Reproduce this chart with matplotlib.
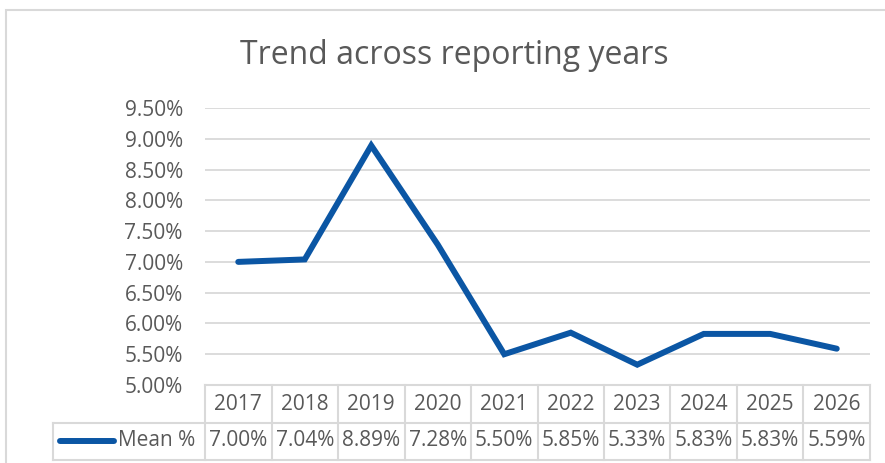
import matplotlib.pyplot as plt
import matplotlib.transforms as mtransforms
from matplotlib.patches import Rectangle

years = ['2017', '2018', '2019', '2020', '2021', '2022', '2023', '2024', '2025', '2026']
mean_pct = [7.00, 7.04, 8.89, 7.28, 5.50, 5.85, 5.33, 5.83, 5.83, 5.59]
series_name = 'Mean %'
title = 'Trend across reporting years'

W, H = 885, 463
blue = '#0B56A4'
grey_txt = '#595959'
grid_c = '#D9D9D9'

plt.rcParams['font.family'] = ['Open Sans', 'DejaVu Sans']

fig = plt.figure(figsize=(W / 100, H / 100), dpi=100)
# plot area in pixels: x 205..870, y 108..385
ax = fig.add_axes([205 / W, 1 - 385 / H, 665 / W, 277 / H])

x = list(range(len(years)))
ax.plot(x, mean_pct, color=blue, lw=4.3, solid_joinstyle='miter', solid_capstyle='round', zorder=3)
ax.set_xlim(-0.5, len(years) - 0.5)
ax.set_ylim(5.0, 9.5)
yt = [5.0 + 0.5 * i for i in range(10)]
ax.set_yticks(yt)
ax.set_yticklabels(['%.2f%%' % v for v in yt], color=grey_txt, fontsize=15)
ax.set_xticks([])
ax.tick_params(axis='y', length=0, pad=16)
for s in ax.spines.values():
    s.set_visible(False)
for v in yt:
    ax.axhline(v, color=grid_c, lw=1.3, zorder=1)

# data table below the plot
trans = mtransforms.blended_transform_factory(ax.transData, ax.transAxes)
ph = 277.0
def ay(py):
    return -(py - 385) / ph
def dx(px):
    return (px - 205) / 66.5 - 0.5

y_top, y_mid, y_bot = ay(385), ay(423), ay(460)
lx = dx(53)
kw = dict(color=grid_c, lw=1.5, transform=trans, clip_on=False)
ax.plot([-0.5, 9.5], [y_top, y_top], **kw)
ax.plot([lx, 9.5], [y_mid, y_mid], **kw)
ax.plot([lx, 9.5], [y_bot, y_bot], **kw)
ax.plot([lx, lx], [y_mid, y_bot], **kw)
for i in range(len(years) + 1):
    ax.plot([i - 0.5, i - 0.5], [y_top, y_bot], **kw)

for i, (yr, v) in enumerate(zip(years, mean_pct)):
    ax.text(i, ay(404), yr, transform=trans, ha='center', va='center', fontsize=15, color=grey_txt)
    ax.text(i, ay(441), '%.2f%%' % v, transform=trans, ha='center', va='center', fontsize=15, color=grey_txt)

ax.plot([dx(60), dx(114)], [ay(441), ay(441)], color=blue, lw=4.3, solid_capstyle='round',
        transform=trans, clip_on=False)
ax.text(dx(118), ay(441), series_name, transform=trans, ha='left', va='center', fontsize=15, color=grey_txt)

fig.text(454 / W, 1 - 56 / H, title, ha='center', va='center', fontsize=23, color=grey_txt)

# chart border
fig.patches.append(Rectangle((6 / W, -0.1), 1.2, 1 - 10 / H + 0.1, transform=fig.transFigure,
                             fill=False, ec=grid_c, lw=1.5))

fig.savefig('out.png', dpi=100)
